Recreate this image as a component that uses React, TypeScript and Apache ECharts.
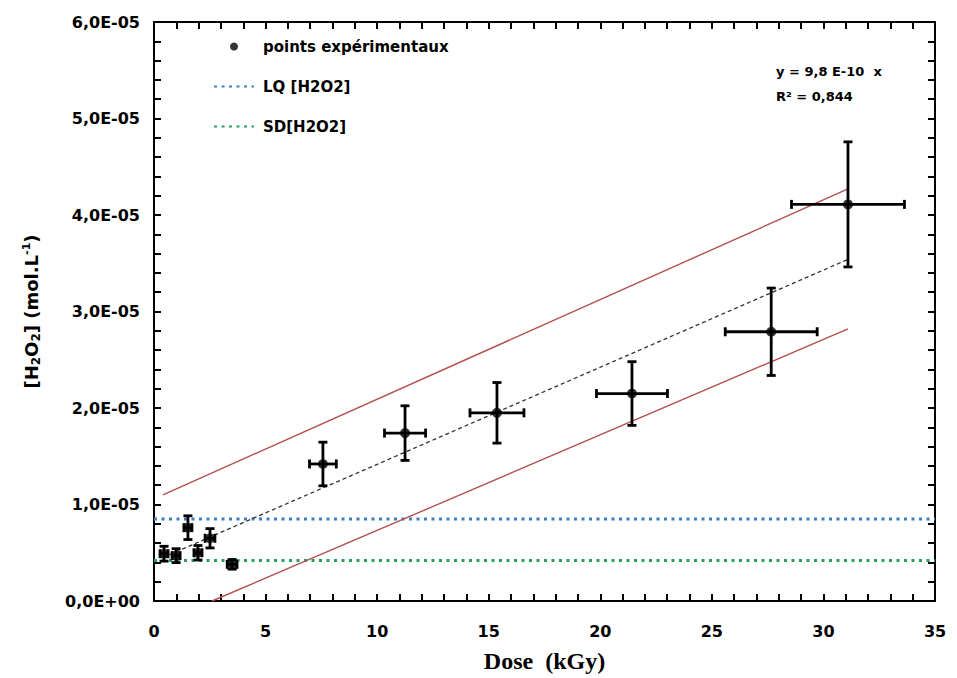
import React, { useEffect, useRef } from "react";
import * as echarts from "echarts";

// Experimental points: dose (kGy), [H2O2] (mol/L), dose error, concentration error
const doses = [0.45, 0.99, 1.52, 1.97, 2.51, 3.5, 7.57, 11.25, 15.37, 21.42, 27.66, 31.1];
const concentrations = [4.9e-6, 4.7e-6, 7.6e-6, 5.0e-6, 6.5e-6, 3.8e-6, 1.42e-5, 1.74e-5, 1.95e-5, 2.15e-5, 2.79e-5, 4.11e-5];
const doseErrors = [0.18, 0.18, 0.18, 0.18, 0.22, 0.22, 0.6, 0.92, 1.21, 1.59, 2.06, 2.53];
const concErrors = [7.7e-7, 7.2e-7, 1.23e-6, 7.5e-7, 1.0e-6, 5.0e-7, 2.26e-6, 2.83e-6, 3.14e-6, 3.3e-6, 4.53e-6, 6.48e-6];

// Fit line and confidence band end points
const fitX = [0.4, 31.1];
const fitY = [4.5e-6, 3.54e-5];
const upperX = [0.4, 31.1];
const upperY = [1.1e-5, 4.27e-5];
const lowerX = [2.6, 31.1];
const lowerY = [0, 2.82e-5];

// Horizontal limits
const lqValue = 8.5e-6;
const sdValue = 4.2e-6;
const xRange = [0, 35];

const seriesNames = ["points expérimentaux", "LQ [H2O2]", "SD[H2O2]"];
const annotationLines = ["y = 9,8 E-10  x", "R² = 0,844"];

const fmtY = (v: number) => {
  if (Math.abs(v) < 1e-12) return "0,0E+00";
  const e = Math.floor(Math.log10(v) + 1e-9);
  const m = v / Math.pow(10, e);
  const es = Math.abs(e) < 10 ? "0" + Math.abs(e) : String(Math.abs(e));
  return m.toFixed(1).replace(".", ",") + "E" + (e < 0 ? "-" : "+") + es;
};

export default function App() {
  const ref = useRef<HTMLDivElement>(null);
  useEffect(() => {
    if (!ref.current) return;
    const chart = echarts.init(ref.current, undefined, { renderer: "svg" });
    const pts = doses.map((d, i) => [d, concentrations[i]]);
    const errs = doses.map((d, i) => [d, concentrations[i], doseErrors[i], concErrors[i]]);
    const pair = (xs: number[], ys: number[]) => xs.map((x, i) => [x, ys[i]]);

    const tickFont = { fontFamily: "DejaVu Sans", fontWeight: "bold" as const, fontSize: 16, color: "#000" };
    const axisCommon = {
      axisLine: { show: true, onZero: false, lineStyle: { color: "#000", width: 2 } },
      axisTick: { show: true, inside: true, length: 7, lineStyle: { color: "#000", width: 2 } },
      minorTick: { show: true, splitNumber: 5, length: 7, lineStyle: { color: "#000", width: 2 } },
      splitLine: { show: false },
    };
    const legendFont = { fontFamily: "DejaVu Sans", fontWeight: "bold", fontSize: 15, color: "#000" };

    const option: any = {
      animation: false,
      backgroundColor: "#fff",
      grid: { left: 154, right: 22, top: 22, bottom: 64 },
      legend: {
        data: [
          { name: seriesNames[0] },
          { name: seriesNames[1], itemStyle: { opacity: 0 } },
          { name: seriesNames[2], itemStyle: { opacity: 0 } },
        ],
        orient: "vertical",
        left: 208,
        top: 34,
        itemWidth: 40,
        itemHeight: 8,
        itemGap: 25,
        textStyle: { ...legendFont, padding: [0, 0, 0, 4] },
        selectedMode: false,
      },
      xAxis: [
        {
          type: "value",
          min: xRange[0],
          max: xRange[1],
          interval: 5,
          ...axisCommon,
          axisLabel: { ...tickFont, margin: 22 },
          name: "Dose  (kGy)",
          nameLocation: "middle",
          nameGap: 48,
          nameTextStyle: { fontFamily: "Liberation Serif", fontWeight: "bold", fontSize: 24, color: "#000" },
        },
        {
          type: "value",
          position: "top",
          min: xRange[0],
          max: xRange[1],
          interval: 5,
          ...axisCommon,
          axisLabel: { show: false },
        },
      ],
      yAxis: [
        {
          type: "value",
          min: 0,
          max: 6e-5,
          interval: 1e-5,
          ...axisCommon,
          axisLabel: { ...tickFont, margin: 14, formatter: fmtY },
          name: "{b|[H}{sub|2}{b|O}{sub|2}{b|] (mol.L}{sup|-1}{b|)}",
          nameLocation: "middle",
          nameGap: 110,
          nameRotate: 90,
          nameTextStyle: {
            rich: {
              b: { fontFamily: "DejaVu Sans", fontWeight: "bold", fontSize: 18, color: "#000", lineHeight: 26, verticalAlign: "middle" },
              sub: { fontFamily: "DejaVu Sans", fontWeight: "bold", fontSize: 12, color: "#000", lineHeight: 26, verticalAlign: "bottom", padding: [0, 0, 2, 0] },
              sup: { fontFamily: "DejaVu Sans", fontWeight: "bold", fontSize: 11, color: "#000", lineHeight: 26, verticalAlign: "top", padding: [3, 0, 0, 0] },
            },
          },
        },
        {
          type: "value",
          position: "right",
          min: 0,
          max: 6e-5,
          interval: 1e-5,
          ...axisCommon,
          axisLabel: { show: false },
        },
      ],
      series: [
        {
          name: seriesNames[1],
          type: "line",
          data: pair(xRange, [lqValue, lqValue]),
          symbol: "none",
          lineStyle: { color: "#3b7fc0", width: 3, type: [3, 4.5] },
          itemStyle: { color: "#3b7fc0" },
          z: 2,
        },
        {
          name: seriesNames[2],
          type: "line",
          data: pair(xRange, [sdValue, sdValue]),
          symbol: "none",
          lineStyle: { color: "#25a063", width: 3, type: [3, 4.5] },
          itemStyle: { color: "#25a063" },
          z: 2,
        },
        {
          name: "fit",
          type: "line",
          data: pair(fitX, fitY),
          symbol: "none",
          lineStyle: { color: "#333", width: 1.3, type: [4, 3] },
          z: 2,
        },
        {
          name: "upper",
          type: "line",
          data: pair(upperX, upperY),
          symbol: "none",
          lineStyle: { color: "#b4504f", width: 1.4 },
          z: 2,
        },
        {
          name: "lower",
          type: "line",
          data: pair(lowerX, lowerY),
          symbol: "none",
          lineStyle: { color: "#b4504f", width: 1.4 },
          z: 2,
        },
        {
          name: "errors",
          type: "custom",
          data: errs,
          encode: { x: 0, y: 1 },
          z: 3,
          renderItem: (params: any, api: any) => {
            const x = api.value(0);
            const y = api.value(1);
            const ex = api.value(2);
            const ey = api.value(3);
            const c = api.coord([x, y]);
            const l = api.coord([x - ex, y]);
            const r = api.coord([x + ex, y]);
            const t = api.coord([x, y + ey]);
            const b = api.coord([x, y - ey]);
            const cap = 4.5;
            const style = { stroke: "#000", lineWidth: 2.8, fill: null };
            return {
              type: "group",
              children: [
                { type: "line", shape: { x1: l[0], y1: c[1], x2: r[0], y2: c[1] }, style },
                { type: "line", shape: { x1: c[0], y1: t[1], x2: c[0], y2: b[1] }, style },
                { type: "line", shape: { x1: l[0], y1: c[1] - cap, x2: l[0], y2: c[1] + cap }, style },
                { type: "line", shape: { x1: r[0], y1: c[1] - cap, x2: r[0], y2: c[1] + cap }, style },
                { type: "line", shape: { x1: c[0] - cap, y1: t[1], x2: c[0] + cap, y2: t[1] }, style },
                { type: "line", shape: { x1: c[0] - cap, y1: b[1], x2: c[0] + cap, y2: b[1] }, style },
              ],
            };
          },
        },
        {
          name: seriesNames[0],
          type: "scatter",
          data: pts,
          symbol: "circle",
          symbolSize: 10,
          itemStyle: { color: "#000" },
          z: 4,
        },
      ],
      graphic: [
        {
          type: "text",
          left: 776,
          top: 65,
          style: { text: annotationLines[0], fontFamily: "DejaVu Sans", fontWeight: "bold", fontSize: 13, fill: "#000" },
        },
        {
          type: "text",
          left: 776,
          top: 90,
          style: { text: annotationLines[1], fontFamily: "DejaVu Sans", fontWeight: "bold", fontSize: 13, fill: "#000" },
        },
      ],
    };
    chart.setOption(option);
    return () => chart.dispose();
  }, []);
  return <div ref={ref} style={{ width: 957, height: 678, position: "absolute", left: 0, top: 0 }} />;
}
